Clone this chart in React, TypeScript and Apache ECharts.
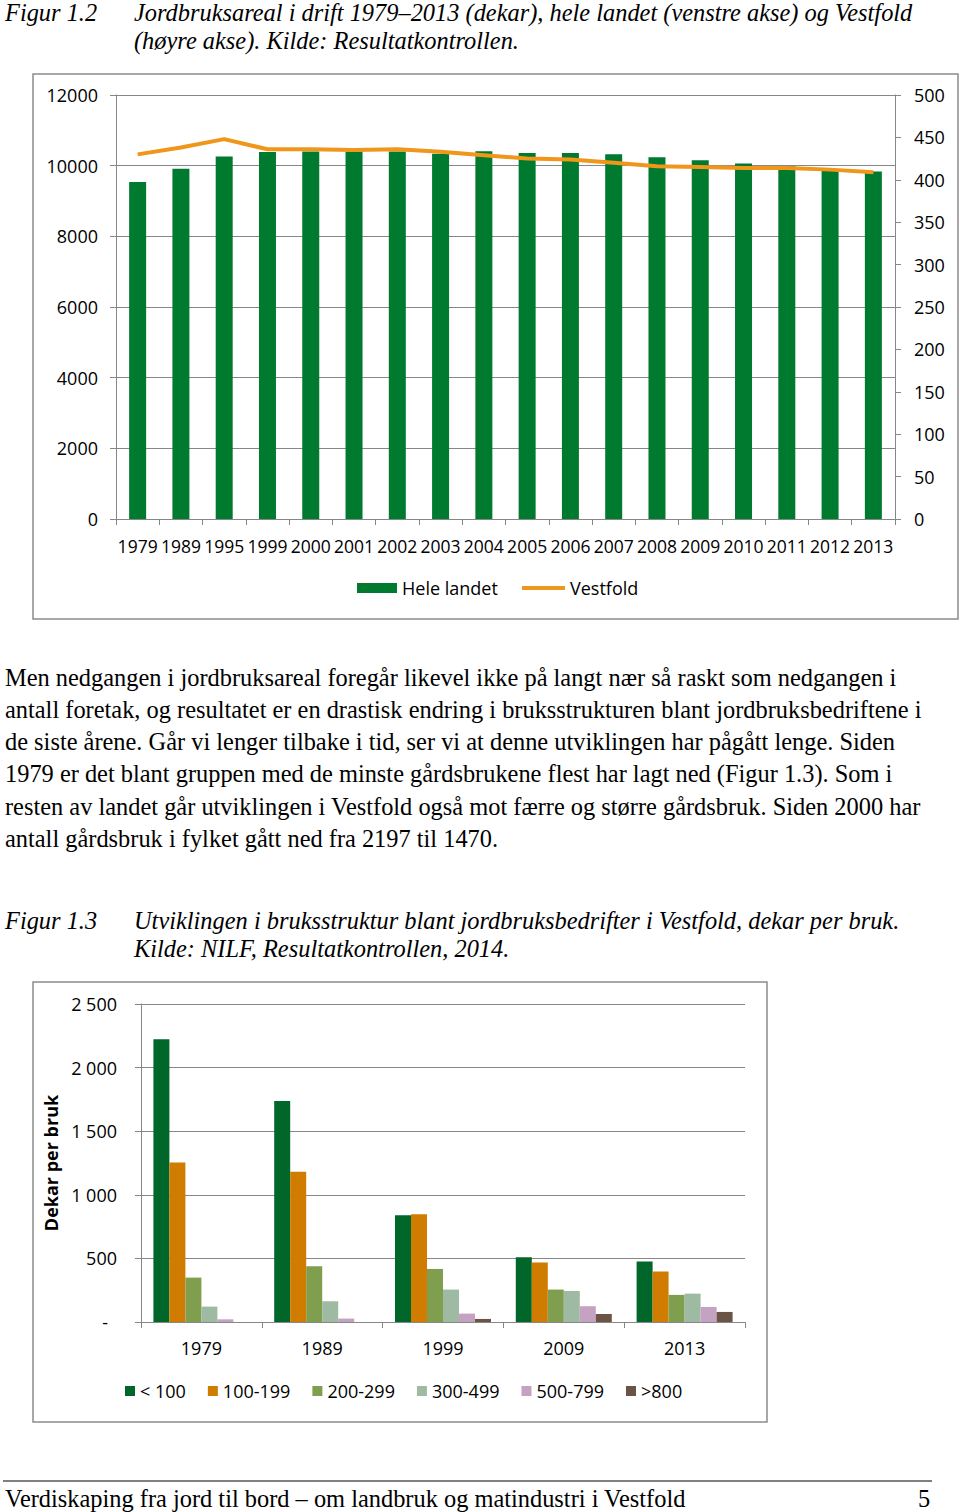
import React, { useEffect, useRef } from 'react';
import * as echarts from 'echarts';

// ---- Figur 1.2 data ----
const years1 = ['1979', '1989', '1995', '1999', '2000', '2001', '2002', '2003', '2004', '2005', '2006', '2007', '2008', '2009', '2010', '2011', '2012', '2013'];
const heleLandet = [9540, 9910, 10260, 10390, 10400, 10400, 10400, 10340, 10410, 10360, 10355, 10325, 10240, 10150, 10060, 9985, 9880, 9835];
const vestfold = [430, 438, 448, 436, 436, 435, 436, 433, 429, 425, 424, 420, 416, 415, 414, 414, 412, 409];

// ---- Figur 1.3 data ----
const years2 = ['1979', '1989', '1999', '2009', '2013'];
const sizeClasses = ['< 100', '100-199', '200-299', '300-499', '500-799', '>800'];
const under100 = [2222, 1737, 840, 509, 475];
const s100to199 = [1254, 1181, 848, 467, 397];
const s200to299 = [349, 438, 417, 255, 213];
const s300to499 = [121, 163, 255, 244, 223];
const s500to799 = [21, 27, 66, 124, 118];
const over800 = [0, 0, 24, 63, 79];
const classValues = [under100, s100to199, s200to299, s300to499, s500to799, over800];
const classColors = ['#00662A', '#D07C00', '#7F9F4F', '#9FBAA2', '#C5A2C2', '#6B5446'];

// ---- Page text ----
const caption12 = ['Jordbruksareal i drift 1979–2013 (dekar), hele landet (venstre akse) og Vestfold', '(høyre akse). Kilde: Resultatkontrollen.'];
const paragraph = [
  'Men nedgangen i jordbruksareal foregår likevel ikke på langt nær så raskt som nedgangen i',
  'antall foretak, og resultatet er en drastisk endring i bruksstrukturen blant jordbruksbedriftene i',
  'de siste årene. Går vi lenger tilbake i tid, ser vi at denne utviklingen har pågått lenge. Siden',
  '1979 er det blant gruppen med de minste gårdsbrukene flest har lagt ned (Figur 1.3). Som i',
  'resten av landet går utviklingen i Vestfold også mot færre og større gårdsbruk. Siden 2000 har',
  'antall gårdsbruk i fylket gått ned fra 2197 til 1470.',
];
const caption13 = ['Utviklingen i bruksstruktur blant jordbruksbedrifter i Vestfold, dekar per bruk.', 'Kilde: NILF, Resultatkontrollen, 2014.'];
const footer = 'Verdiskaping fra jord til bord – om landbruk og matindustri i Vestfold';

const SANS = '"Open Sans", "DejaVu Sans", sans-serif';
const SERIF = '"Liberation Serif", "DejaVu Serif", serif';
const GRID = '#878787';

function fmtThousands(v: number): string {
  if (v === 0) return '-\u2002';
  const s = String(v);
  return s.length > 3 ? s.slice(0, s.length - 3) + ' ' + s.slice(s.length - 3) : s;
}

export default function App() {
  const ref = useRef<HTMLDivElement>(null);
  useEffect(() => {
    if (!ref.current) return;
    const chart = echarts.init(ref.current, undefined, { renderer: 'svg' });

    const serifText = (text: string, x: number, y: number, italic: boolean, size = 24.4) => ({
      type: 'text',
      x,
      y,
      style: {
        text,
        fill: '#000',
        font: `${italic ? 'italic ' : ''}${size}px ${SERIF}`,
        verticalAlign: 'middle',
      },
    });

    const graphics: any[] = [
      { type: 'rect', shape: { x: 33, y: 74, width: 925, height: 545 }, style: { fill: 'none', stroke: '#8c8c8c', lineWidth: 1.5 }, z: -1 },
      { type: 'rect', shape: { x: 33, y: 982, width: 734, height: 440 }, style: { fill: 'none', stroke: '#8c8c8c', lineWidth: 1.5 }, z: -1 },
      { type: 'line', shape: { x1: 3, y1: 1481, x2: 932, y2: 1481 }, style: { stroke: '#000', lineWidth: 1 } },
      serifText('Figur 1.2', 5, 12, true),
      serifText(caption12[0], 134, 12, true),
      serifText(caption12[1], 134, 40, true),
      ...paragraph.map((line, i) => serifText(line, 5, 677 + i * 32.3, false)),
      serifText('Figur 1.3', 5, 920, true),
      serifText(caption13[0], 134, 920, true),
      serifText(caption13[1], 134, 948, true),
      serifText(footer, 5, 1498, false),
      serifText('5', 918, 1498, false),
    ];

    const axisLabel = { color: '#000', fontSize: 18, fontFamily: SANS };
    const legendText = { color: '#000', fontSize: 18, fontFamily: SANS };

    chart.setOption({
      animation: false,
      textStyle: { fontFamily: SANS },
      grid: [
        { left: 116, top: 95, width: 779, height: 424 },
        { left: 141, top: 1004, width: 604, height: 318 },
      ],
      xAxis: [
        {
          type: 'category', gridIndex: 0, data: years1,
          axisLine: { lineStyle: { color: GRID } },
          axisTick: { show: true, length: 6, lineStyle: { color: GRID } },
          axisLabel: { ...axisLabel, fontSize: 17.5, margin: 18, interval: 0 },
        },
        {
          type: 'category', gridIndex: 1, data: years2,
          axisLine: { lineStyle: { color: GRID } },
          axisTick: { show: true, length: 6, lineStyle: { color: GRID } },
          axisLabel: { ...axisLabel, margin: 17, interval: 0 },
        },
      ],
      yAxis: [
        {
          type: 'value', gridIndex: 0, position: 'left', min: 0, max: 12000, interval: 2000,
          axisLine: { show: true, lineStyle: { color: GRID } },
          axisTick: { show: true, length: 6, lineStyle: { color: GRID } },
          splitLine: { show: true, lineStyle: { color: GRID } },
          axisLabel: { ...axisLabel, margin: 18, formatter: (v: number) => String(v) },
        },
        {
          type: 'value', gridIndex: 0, position: 'right', min: 0, max: 500, interval: 50,
          axisLine: { show: true, lineStyle: { color: GRID } },
          axisTick: { show: true, length: 6, lineStyle: { color: GRID } },
          splitLine: { show: false },
          axisLabel: { ...axisLabel, margin: 19, formatter: (v: number) => String(v) },
        },
        {
          type: 'value', gridIndex: 1, min: 0, max: 2500, interval: 500,
          name: 'Dekar per bruk', nameLocation: 'middle', nameGap: 80,
          nameTextStyle: { color: '#000', fontSize: 18, fontWeight: 'bold', fontFamily: SANS },
          axisLine: { show: true, lineStyle: { color: GRID } },
          axisTick: { show: true, length: 6, lineStyle: { color: GRID } },
          splitLine: { show: true, lineStyle: { color: GRID } },
          axisLabel: { ...axisLabel, margin: 24, formatter: (v: number) => fmtThousands(v) },
        },
      ],
      legend: [
        {
          data: ['Hele landet'], left: 352, top: 574, icon: 'rect', itemWidth: 40, itemHeight: 10,
          textStyle: legendText,
        },
        {
          data: ['Vestfold'], left: 517, top: 574, icon: 'rect', itemWidth: 43, itemHeight: 4,
          textStyle: legendText,
        },
        {
          data: sizeClasses, left: 120, top: 1377, icon: 'rect', itemWidth: 10, itemHeight: 10, itemGap: 22,
          textStyle: legendText,
        },
      ],
      series: [
        {
          name: 'Hele landet', type: 'bar', xAxisIndex: 0, yAxisIndex: 0, data: heleLandet,
          barWidth: 17, itemStyle: { color: '#007A2F' },
        },
        {
          name: 'Vestfold', type: 'line', xAxisIndex: 0, yAxisIndex: 1, data: vestfold,
          symbol: 'none', lineStyle: { color: '#F0961B', width: 4 }, itemStyle: { color: '#F0961B' },
        },
        ...sizeClasses.map((name, i) => ({
          name, type: 'bar', xAxisIndex: 1, yAxisIndex: 2, data: classValues[i],
          barWidth: 16, barGap: '0%', itemStyle: { color: classColors[i] },
        })),
      ],
      graphic: graphics,
    });
    return () => chart.dispose();
  }, []);

  return <div ref={ref} style={{ position: 'absolute', left: 0, top: 0, width: 960, height: 1512, background: '#fff' }} />;
}
